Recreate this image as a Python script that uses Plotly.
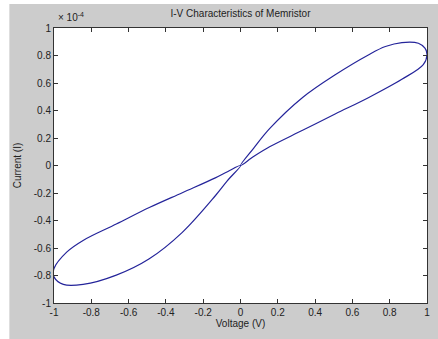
import plotly.graph_objects as go

# Memristor loop, voltage (V) and current (units of 1e-4 A)
# positive half: steep branch out, shallow branch back
v_pos = [0.0, 0.07, 0.156, 0.333, 0.51, 0.688, 0.777, 0.865, 0.954, 0.989, 1.0,
         0.98, 0.865, 0.688, 0.51, 0.333, 0.156, 0.07, 0.0]
i_pos = [0.0, 0.125, 0.268, 0.495, 0.662, 0.806, 0.865, 0.894, 0.889, 0.853, 0.806,
         0.734, 0.627, 0.495, 0.376, 0.256, 0.136, 0.065, 0.0]
# negative half: steep branch out, shallow branch back
v_neg = [0.0, -0.07, -0.135, -0.312, -0.489, -0.666, -0.844, -0.95, -1.0,
         -1.0, -0.932, -0.844, -0.666, -0.489, -0.312, -0.135, -0.07, 0.0]
i_neg = [0.0, -0.11, -0.22, -0.486, -0.678, -0.797, -0.865, -0.865, -0.81,
         -0.75, -0.63, -0.545, -0.426, -0.306, -0.198, -0.09, -0.045, 0.0]

x_ticks = [-1, -0.8, -0.6, -0.4, -0.2, 0, 0.2, 0.4, 0.6, 0.8, 1]
x_labels = ["-1", "-0.8", "-0.6", "-0.4", "-0.2", "0", "0.2", "0.4", "0.6", "0.8", "1"]
y_ticks = [-1, -0.8, -0.6, -0.4, -0.2, 0, 0.2, 0.4, 0.6, 0.8, 1]
y_labels = ["-1", "-0.8", "-0.6", "-0.4", "-0.2", "0", "0.2", "0.4", "0.6", "0.8", "1"]

line_color = "#24249a"
font_fam = "Liberation Sans, Arial, sans-serif"
txt = "#222222"

fig = go.Figure()
fig.add_trace(go.Scatter(x=v_pos, y=i_pos, mode="lines",
                         line=dict(color=line_color, width=1.2, shape="spline", smoothing=1.0),
                         showlegend=False, hoverinfo="skip"))
fig.add_trace(go.Scatter(x=v_neg, y=i_neg, mode="lines",
                         line=dict(color=line_color, width=1.2, shape="spline", smoothing=1.0),
                         showlegend=False, hoverinfo="skip"))

axis_common = dict(showgrid=False, zeroline=False, showline=True, linecolor="#333333",
                   linewidth=1, mirror="allticks", ticks="inside", ticklen=4,
                   tickcolor="#333333", tickfont=dict(family=font_fam, size=10, color=txt))

fig.update_xaxes(range=[-1, 1], tickvals=x_ticks, ticktext=x_labels,
                 title=dict(text="Voltage (V)", font=dict(family=font_fam, size=10, color=txt),
                            standoff=2),
                 **axis_common)
fig.update_yaxes(range=[-1, 1], tickvals=y_ticks, ticktext=y_labels,
                 title=dict(text="Current (I)", font=dict(family=font_fam, size=10, color=txt),
                            standoff=10),
                 **axis_common)

fig.update_layout(
    width=438, height=339, autosize=False,
    margin=dict(l=54, r=8, t=28, b=36, pad=0),
    paper_bgcolor="#cccccc", plot_bgcolor="white",
    title=dict(text="I-V Characteristics of Memristor", x=0.5, xref="paper",
               y=1, yref="paper", yanchor="bottom", pad=dict(b=11),
               font=dict(family=font_fam, size=10, color=txt)),
    shapes=[
        dict(type="rect", xref="paper", yref="paper", x0=-0.2, x1=(9 - 54) / 376,
             y0=-0.2, y1=1.2, fillcolor="white", line=dict(width=0), layer="below"),
        dict(type="rect", xref="paper", yref="paper", x0=-0.2, x1=1.2,
             y0=(303 - 4) / 275, y1=1.2, fillcolor="white", line=dict(width=0), layer="below"),
    ],
    annotations=[
        dict(text="× 10<sup>-4</sup>", xref="paper", yref="paper", x=0.005, y=1.012,
             xanchor="left", yanchor="bottom", showarrow=False,
             font=dict(family=font_fam, size=10, color=txt)),
    ],
)

fig.write_html("out.html", config={"displayModeBar": False},
               post_script="document.body.style.margin='0';document.body.style.padding='0';")
